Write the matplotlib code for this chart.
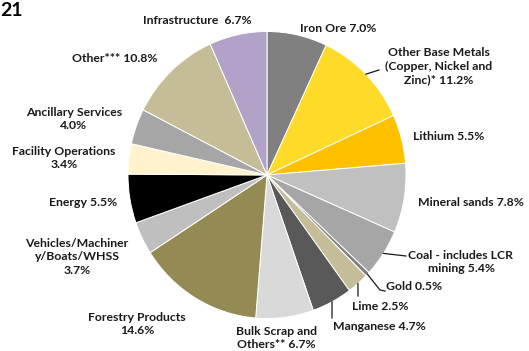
import matplotlib
matplotlib.use("Agg")
import matplotlib.pyplot as plt
import numpy as np

# slices, clockwise from 12 o'clock
labels = ["Iron Ore", "Other Base Metals\n(Copper, Nickel and\nZinc)*", "Lithium",
          "Mineral sands", "Coal - includes LCR\nmining", "Gold", "Lime", "Manganese",
          "Bulk Scrap and\nOthers**", "Forestry Products\n", "Vehicles/Machiner\ny/Boats/WHSS\n",
          "Energy", "Facility Operations\n", "Ancillary Services\n", "Other***", "Infrastructure "]
shares = [7.0, 11.2, 5.5, 7.8, 5.4, 0.5, 2.5, 4.7, 6.7, 14.6, 3.7, 5.5, 3.4, 4.0, 10.8, 6.7]
colors = ["#808080", "#FFDB29", "#FFC000", "#C0C0C0", "#A6A6A6", "#7F7F7F", "#C4BD97", "#595959",
          "#D9D9D9", "#948A54", "#BFBFBF", "#000000", "#FFF2CC", "#A6A6A6", "#C4BD97", "#B3A2C7"]

# label anchors (pixel coords, y down)
lab_xy = [(338, 28), (439, 66), (449, 136), (471, 202), (461, 262), (414, 287), (380, 306),
          (379, 327), (276, 338), (137, 324), (77, 257), (83, 203), (64, 158), (74, 119),
          (115, 58), (197, 20)]
# leader lines: slice index -> bend points after the wedge edge
leaders = {1: [(379, 70)], 4: [(406, 256)], 5: [(380, 290), (385, 291)],
           6: [(358, 296)], 7: [(332, 318)]}

W, H = 529, 351
CX, CY, RX, RY = 267, 175, 139, 143.5

fig = plt.figure(figsize=(W / 100, H / 100), dpi=100)
pax = fig.add_axes([(CX - RX) / W, (H - CY - RY) / H, 2 * RX / W, 2 * RY / H])
pax.pie(shares, colors=colors, startangle=90, counterclock=False, radius=1,
        wedgeprops=dict(edgecolor="white", linewidth=0.7))
pax.set_aspect("auto")
pax.set_xlim(-1, 1); pax.set_ylim(-1, 1)
pax.axis("off")

ax = fig.add_axes([0, 0, 1, 1])
ax.set_xlim(0, W); ax.set_ylim(H, 0); ax.axis("off")

font = dict(family=["Lato", "DejaVu Sans"], fontweight="bold", fontsize=8.8, color="#1a1a1a")
cum = np.cumsum([0] + shares)
for i, (lab, v) in enumerate(zip(labels, shares)):
    txt = lab + ("" if lab.endswith("\n") else " ") + f"{v:.1f}%"
    x, y = lab_xy[i]
    ax.text(x, y, txt, ha="center", va="center", multialignment="center",
            linespacing=1.32, **font)
    if i in leaders:
        th = np.deg2rad((cum[i] + v / 2) / 100 * 360)
        pts = [(CX + RX * np.sin(th), CY - RY * np.cos(th))] + leaders[i]
        ax.plot([p[0] for p in pts], [p[1] for p in pts], color="#1a1a1a", lw=0.9)

ax.text(0, 10, "21", ha="left", va="center", family=["Lato", "DejaVu Sans"],
        fontweight="bold", fontsize=14, color="#000000")

fig.savefig("out.png", dpi=100, facecolor="white")
